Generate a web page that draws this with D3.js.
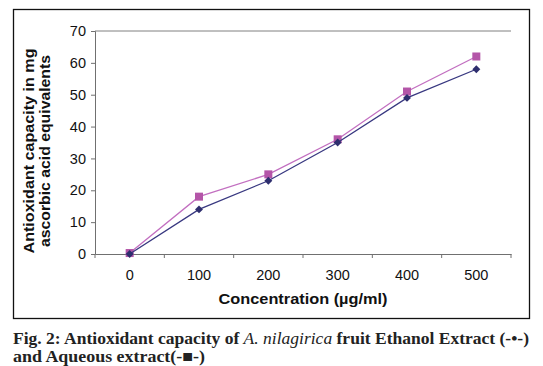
<!DOCTYPE html>
<html>
<head>
<meta charset="utf-8">
<script src="https://cdn.jsdelivr.net/npm/d3@7"></script>
<style>
  body { margin: 0; background: #fff; }
  svg { display: block; }
</style>
</head>
<body>
<div id="chart"></div>
<script>
const width = 543
const height = 366
const margin = { top: 31, bottom: 112, left: 95, right: 32 }

// Data
const concentrations = ["0", "100", "200", "300", "400", "500"]
const ethanol = [0, 14, 23, 35, 49, 58]
const aqueous = [0.3, 18, 25, 36, 51, 62]
const yTicks = [0, 10, 20, 30, 40, 50, 60, 70]

const sans = "Liberation Sans, Arial, sans-serif"

const svg = d3.select("#chart").append("svg")
  .attr("width", width)
  .attr("height", height)

// outer frame
svg.append("rect")
  .attr("x", 13.5).attr("y", 9.5)
  .attr("width", 516).attr("height", 309)
  .attr("fill", "none").attr("stroke", "#111").attr("stroke-width", 1.3)

const plotW = width - margin.left - margin.right
const plotH = height - margin.top - margin.bottom

const x = d3.scaleBand().domain(concentrations).range([0, plotW]).padding(0)
const y = d3.scaleLinear().domain([0, 70]).range([plotH, 0])

const g = svg.append("g").attr("transform", `translate(${margin.left}, ${margin.top})`)

// top gridline
g.append("line")
  .attr("x1", 0).attr("x2", plotW)
  .attr("y1", y(70)).attr("y2", y(70))
  .attr("stroke", "#808080").attr("stroke-width", 1)

// y axis
const yAxis = d3.axisLeft(y).tickValues(yTicks).tickSize(4).tickPadding(5)
const yG = g.append("g").call(yAxis)
yG.select(".domain").attr("stroke", "#707070")
yG.selectAll(".tick line").attr("stroke", "#707070")
yG.selectAll("text").attr("font-family", sans)
  .attr("font-size", 14.5).attr("fill", "#111")

// x axis: labels centred, ticks between categories
const xAxis = d3.axisBottom(x).tickSize(0).tickPadding(16)
const xG = g.append("g").attr("transform", `translate(0, ${plotH})`).call(xAxis)
xG.select(".domain").attr("stroke", "#707070")
xG.selectAll("text").attr("font-family", sans)
  .attr("font-size", 14.5).attr("fill", "#111")
const edges = concentrations.map(d => x(d)).concat([plotW])
xG.selectAll(".edge").data(edges).enter().append("line")
  .attr("class", "edge")
  .attr("x1", d => d).attr("x2", d => d)
  .attr("y1", 0).attr("y2", 4)
  .attr("stroke", "#707070")

const cx = d => x(d) + x.bandwidth() / 2
const line = d3.line().x((d, i) => cx(concentrations[i])).y(d => y(d))

// aqueous (squares)
g.append("path").datum(aqueous)
  .attr("d", line).attr("fill", "none")
  .attr("stroke", "#c26fc0").attr("stroke-width", 1.3)
g.selectAll(".sq").data(aqueous).enter().append("rect")
  .attr("class", "sq")
  .attr("x", (d, i) => cx(concentrations[i]) - 4)
  .attr("y", d => y(d) - 4)
  .attr("width", 8).attr("height", 8)
  .attr("fill", "#b455a8")

// ethanol (diamonds)
g.append("path").datum(ethanol)
  .attr("d", line).attr("fill", "none")
  .attr("stroke", "#383880").attr("stroke-width", 1.3)
g.selectAll(".dm").data(ethanol).enter().append("path")
  .attr("class", "dm")
  .attr("d", d3.symbol(d3.symbolDiamond2, 40))
  .attr("transform", (d, i) => `translate(${cx(concentrations[i])}, ${y(d)})`)
  .attr("fill", "#2e2e6e")

// axis titles
svg.append("text")
  .attr("x", 303).attr("y", 304)
  .attr("text-anchor", "middle")
  .attr("font-family", sans)
  .attr("font-size", 14.5).attr("font-weight", "bold").attr("fill", "#111")
  .attr("textLength", 169).attr("lengthAdjust", "spacingAndGlyphs")
  .text("Concentration (µg/ml)")

const yTitle = svg.append("g").attr("transform", "translate(34, 151) rotate(-90)")
yTitle.append("text")
  .attr("x", 0).attr("y", 0)
  .attr("text-anchor", "middle")
  .attr("font-family", sans)
  .attr("font-size", 15).attr("font-weight", "bold").attr("fill", "#111")
  .attr("textLength", 205).attr("lengthAdjust", "spacingAndGlyphs")
  .text("Antioxidant capacity in mg")
yTitle.append("text")
  .attr("x", 0).attr("y", 16)
  .attr("text-anchor", "middle")
  .attr("font-family", sans)
  .attr("font-size", 15).attr("font-weight", "bold").attr("fill", "#111")
  .attr("textLength", 192).attr("lengthAdjust", "spacingAndGlyphs")
  .text("ascorbic acid equivalents")

// caption
const serif = "Liberation Serif, Times New Roman, serif"
const l1 = svg.append("text")
  .attr("x", 13).attr("y", 344)
  .attr("font-family", serif)
  .attr("font-size", 16.5).attr("font-weight", "bold").attr("fill", "#222")
  .attr("textLength", 516).attr("lengthAdjust", "spacingAndGlyphs")
l1.append("tspan").text("Fig. 2: Antioxidant capacity of ")
l1.append("tspan").attr("font-style", "italic").attr("font-weight", "normal").text("A. nilagirica")
l1.append("tspan").text(" fruit Ethanol Extract (-•-)")
svg.append("text")
  .attr("x", 13).attr("y", 362)
  .attr("font-family", serif)
  .attr("font-size", 16.5).attr("font-weight", "bold").attr("fill", "#222")
  .attr("textLength", 192).attr("lengthAdjust", "spacingAndGlyphs")
  .text("and Aqueous extract(-■-)")
</script>
</body>
</html>
